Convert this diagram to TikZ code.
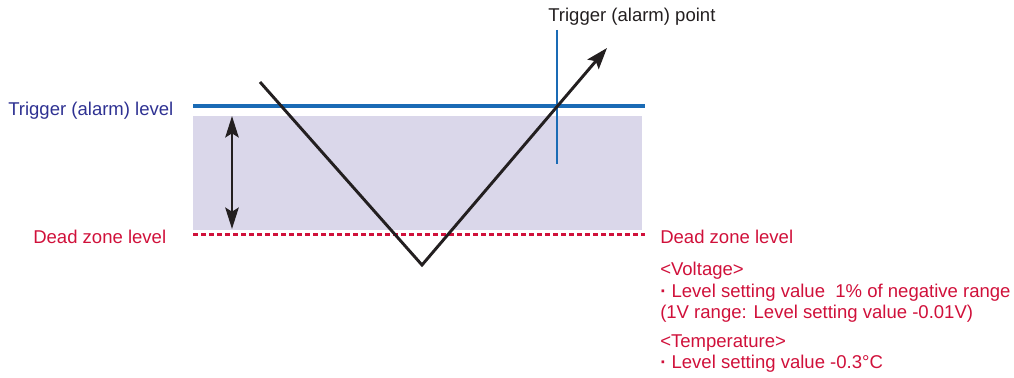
\documentclass[tikz,border=0pt]{standalone}
\usepackage{fontspec}
\setmainfont{Liberation Sans}
\usetikzlibrary{arrows.meta}
\definecolor{navytxt}{HTML}{2E3192}
\definecolor{redtxt}{HTML}{D0103A}
\definecolor{blueline}{HTML}{1A6BB5}
\definecolor{zonefill}{HTML}{DAD7EA}
\definecolor{inkblack}{HTML}{231F20}
\begin{document}
\begin{tikzpicture}[x=0.75pt,y=-0.75pt,
  lbl/.style={inner sep=0pt,font=\fontsize{13.9}{16}\selectfont},
  redlbl/.style={lbl,text=redtxt,anchor=base west},
  levelline/.style={line width=2.6pt,draw=blueline},
  deadline/.style={line width=2.6pt,draw=redtxt,dash pattern=on 3.4pt off 2.6pt},
  vline/.style={line width=2.2pt,draw=inkblack},
  dblarrow/.style={line width=2.2pt,draw=inkblack,{Stealth[length=16pt,width=10pt,inset=3pt]}-{Stealth[length=16pt,width=10pt,inset=3pt]}}
]
\useasboundingbox (0,0) rectangle (1014,378);
% shaded zone
\fill[zonefill] (193,116) rectangle (642,230);
% level lines
\coordinate (tlA) at (193,106);
\coordinate (tlB) at (645,106);
\draw[levelline] (tlA) -- (tlB);
\coordinate (dzA) at (193,234.5);
\coordinate (dzB) at (645,234.5);
\draw[deadline] (dzA) -- (dzB);
% trigger point marker
\coordinate (tpTop) at (557,30);
\coordinate (tpBot) at (557,164);
\draw[line width=1.5pt,draw=blueline] (tpTop) -- (tpBot);
% double arrow
\coordinate (daTop) at (232,116);
\coordinate (daBot) at (232,229);
\draw[dblarrow] (daTop) -- (daBot);
% V signal
\coordinate (vS) at (260,82);
\coordinate (vM) at (422,265);
\coordinate (vE) at (607,48);
\draw[vline,-{Stealth[length=16pt,width=11pt,inset=3pt]}] (vS) -- (vM) -- (vE);
% labels
\node[lbl,text=navytxt,anchor=base west] (tlLbl) at (8,115) {Trigger (alarm) level};
\node[lbl,text=inkblack,anchor=base west] (tpLbl) at (548,22) {Trigger (alarm) point};
\node[redlbl] (dzL) at (33,243) {Dead zone level};
\node[redlbl] (dzR) at (660,243) {Dead zone level};
\node[redlbl] (v1) at (660,275) {<Voltage>};
\node[redlbl] (v2) at (660,297) {\textbf{·} Level setting value\ \ 1\% of negative range};
\node[redlbl] (v3) at (660,318) {(1V range: Level setting value -0.01V)};
\node[redlbl] (t1) at (660,347) {<Temperature>};
\node[redlbl] (t2) at (660,368) {\textbf{·} Level setting value -0.3°C};
\end{tikzpicture}
\end{document}
